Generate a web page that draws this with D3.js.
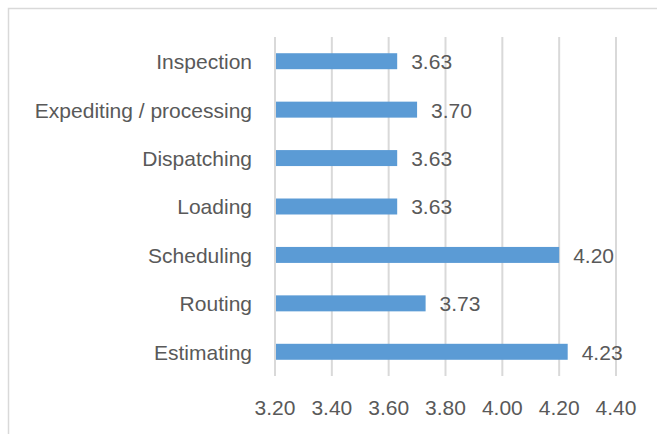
<!DOCTYPE html>
<html>
<head>
<meta charset="utf-8">
<script src="https://cdn.jsdelivr.net/npm/d3@7"></script>
<style>
  body { margin: 0; background: #fff; }
  text { font-family: "Liberation Sans", Arial, sans-serif; fill: #595959; font-size: 21px; }
</style>
</head>
<body>
<svg id="chart" width="657" height="434"></svg>
<script>
// categories top to bottom, as shown
var categories = ["Inspection", "Expediting / processing", "Dispatching", "Loading", "Scheduling", "Routing", "Estimating"];
var values = [3.63, 3.70, 3.63, 3.63, 4.20, 3.73, 4.23];
var ticks = [3.20, 3.40, 3.60, 3.80, 4.00, 4.20, 4.40];

var svg = d3.select("#chart");

// frame
svg.append("rect")
    .attr("x", 8.5).attr("y", 8.5)
    .attr("width", 700).attr("height", 500)
    .attr("fill", "none")
    .attr("stroke", "#d9d9d9")
    .attr("stroke-width", 1.5);

var x = d3.scaleLinear().domain([3.2, 4.4]).range([275, 616]);
var y = d3.scaleBand().domain(categories).range([37, 376]).paddingInner(0.67).paddingOuter(0.335);

// gridlines
svg.append("g").selectAll("line")
    .data(ticks)
    .enter().append("line")
    .attr("x1", function(d){ return x(d); })
    .attr("x2", function(d){ return x(d); })
    .attr("y1", 37)
    .attr("y2", 376)
    .attr("stroke", "#d9d9d9")
    .attr("stroke-width", 2);

// x tick labels
svg.append("g").selectAll("text")
    .data(ticks)
    .enter().append("text")
    .attr("x", function(d){ return x(d); })
    .attr("y", 415)
    .attr("text-anchor", "middle")
    .text(function(d){ return d3.format(".2f")(d); });

// bars
svg.append("g").selectAll("rect")
    .data(values)
    .enter().append("rect")
    .attr("x", x(3.2) + 1)
    .attr("y", function(d, i){ return y(categories[i]); })
    .attr("width", function(d){ return x(d) - x(3.2) - 1; })
    .attr("height", y.bandwidth())
    .attr("fill", "#5b9bd5");

// value labels
svg.append("g").selectAll("text")
    .data(values)
    .enter().append("text")
    .attr("x", function(d){ return x(d) + 14; })
    .attr("y", function(d, i){ return y(categories[i]) + y.bandwidth() / 2; })
    .attr("dy", "0.38em")
    .text(function(d){ return d3.format(".2f")(d); });

// category labels
svg.append("g").selectAll("text")
    .data(categories)
    .enter().append("text")
    .attr("x", 252)
    .attr("y", function(d){ return y(d) + y.bandwidth() / 2; })
    .attr("dy", "0.38em")
    .attr("text-anchor", "end")
    .text(function(d){ return d; });
</script>
</body>
</html>
